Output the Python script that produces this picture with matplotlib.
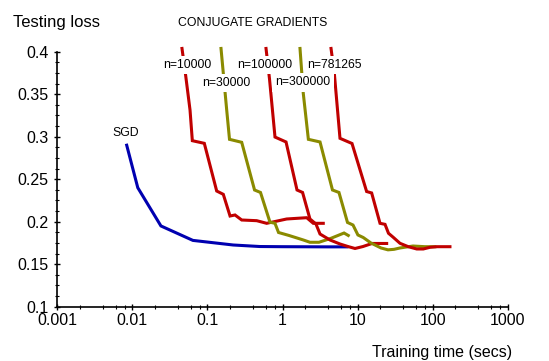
import numpy             as np
import matplotlib
matplotlib.use('Agg')
import matplotlib.pyplot as plt
from matplotlib.ticker import FixedLocator, FixedFormatter, NullFormatter

plt.rcParams['font.family'] = ['Liberation Sans', 'DejaVu Sans']

# SGD curve (time in secs, testing loss)
sgd_time = [0.0084, 0.0118, 0.024, 0.064, 0.22, 0.5, 1.0, 2.0, 4.0, 7.2]
sgd_loss = [0.290, 0.240, 0.195, 0.178, 0.1726, 0.1708, 0.1706, 0.1705, 0.1704, 0.1704]

# conjugate gradients, one curve per training set size
cg10k_time = [0.0458, 0.0513, 0.0586, 0.0629, 0.0908, 0.1328, 0.1626, 0.200, 0.233, 0.286,
              0.453, 0.615, 1.137, 2.10, 2.57, 3.49]
cg10k_loss = [0.4038, 0.3718, 0.3314, 0.2953, 0.2922, 0.2361, 0.2322, 0.2067, 0.2079, 0.2020,
              0.2012, 0.1981, 0.2032, 0.2047, 0.1981, 0.1981]

cg30k_time = [0.1516, 0.1805, 0.1967, 0.286, 0.424, 0.509, 0.681, 0.794, 0.885, 1.220,
              1.892, 2.32, 3.06, 4.43, 6.6, 7.52]
cg30k_loss = [0.4038, 0.3314, 0.2969, 0.2934, 0.2373, 0.2344, 0.1994, 0.1981, 0.1873, 0.1838,
              0.1785, 0.1758, 0.1758, 0.1805, 0.1867, 0.1838]

cg100k_time = [0.603, 0.671, 0.794, 1.114, 1.56, 1.85, 2.32, 2.79, 3.16, 4.29,
               5.82, 7.45, 9.24, 11.8, 15.6, 24.4]
cg100k_loss = [0.4038, 0.3679, 0.2996, 0.2938, 0.2373, 0.2344, 0.2032, 0.1973, 0.1855, 0.1785,
               0.1738, 0.1708, 0.1685, 0.1708, 0.1744, 0.1744]

cg300k_time = [1.71, 1.89, 2.21, 3.16, 4.63, 5.65, 7.34, 8.69, 10.1, 11.9,
               15.1, 20.5, 25.4, 30.6, 36.7, 54.7, 79.0, 107]
cg300k_loss = [0.4038, 0.3511, 0.2969, 0.2938, 0.2373, 0.2344, 0.1991, 0.1961, 0.1844, 0.1814,
               0.1749, 0.1691, 0.1669, 0.1675, 0.1691, 0.1714, 0.1706, 0.1706]

cgfull_time = [4.43, 4.90, 5.83, 8.43, 13.2, 15.4, 19.9, 23.2, 25.8, 29.9,
               36.7, 47.4, 61.4, 75.0, 92.2, 114, 170]
cgfull_loss = [0.4038, 0.3746, 0.2981, 0.2920, 0.2355, 0.2338, 0.1981, 0.1969, 0.1864, 0.1816,
               0.1746, 0.1706, 0.1679, 0.1679, 0.1699, 0.1706, 0.1706]

x_ticks       = [0.001, 0.01, 0.1, 1, 10, 100, 1000]
x_tick_labels = ['0.001', '0.01', '0.1', '1', '10', '100', '1000']
y_ticks       = [0.1, 0.15, 0.2, 0.25, 0.3, 0.35, 0.4]
y_tick_labels = ['0.1', '0.15', '0.2', '0.25', '0.3', '0.35', '0.4']

red   = '#c00000'
olive = '#8a8a00'
blue  = '#0000b0'

fig = plt.figure(figsize = (5.49, 3.61), dpi = 100)
ax  = fig.add_axes([0.1044, 0.1504, 0.8204, 0.7064])

curves = [(sgd_time,    sgd_loss,    blue),
          (cg10k_time,  cg10k_loss,  red),
          (cg30k_time,  cg30k_loss,  olive),
          (cg100k_time, cg100k_loss, red),
          (cg300k_time, cg300k_loss, olive),
          (cgfull_time, cgfull_loss, red)]

for t, loss, col in curves:
    ax.plot(t, loss, color = col, lw = 2.2, clip_on = False, zorder = 2,
            solid_joinstyle = 'miter')

ax.set_xscale('log')
ax.set_xlim(0.001, 1000)
ax.set_ylim(0.1, 0.4)

minor_x = [m * 10.0 ** e for e in range(-3, 3) for m in (2, 4, 6, 8)]
ax.xaxis.set_major_locator(FixedLocator(x_ticks))
ax.xaxis.set_major_formatter(FixedFormatter(x_tick_labels))
ax.xaxis.set_minor_locator(FixedLocator(minor_x))
ax.xaxis.set_minor_formatter(NullFormatter())
ax.yaxis.set_major_locator(FixedLocator(y_ticks))
ax.yaxis.set_major_formatter(FixedFormatter(y_tick_labels))
ax.yaxis.set_minor_locator(FixedLocator(np.arange(0.1, 0.4001, 0.0125)))

ax.spines['top'].set_visible(False)
ax.spines['right'].set_visible(False)
for side in ['left', 'bottom']:
    ax.spines[side].set_linewidth(1.2)

ax.tick_params(which = 'major', direction = 'inout', length = 5, width = 1.0,
               labelsize = 11.5, colors = 'black')
ax.tick_params(which = 'minor', direction = 'inout', length = 3, width = 0.8)
ax.tick_params(axis = 'x', pad = 2)
ax.tick_params(axis = 'y', pad = 4)

label_box = dict(facecolor = 'white', edgecolor = 'none', pad = 2.5)
ax.text(0.4, 0.4335, 'CONJUGATE GRADIENTS', fontsize = 8.8, ha = 'center', va = 'center')
ax.text(0.0547, 0.3844, 'n=10000',  fontsize = 8.8, ha = 'center', va = 'center', bbox = label_box, zorder = 5)
ax.text(0.1800, 0.3631, 'n=30000',  fontsize = 8.8, ha = 'center', va = 'center', bbox = label_box, zorder = 5)
ax.text(0.5800, 0.3844, 'n=100000', fontsize = 8.8, ha = 'center', va = 'center', bbox = label_box, zorder = 5)
ax.text(1.8800, 0.3639, 'n=300000', fontsize = 8.8, ha = 'center', va = 'center', bbox = label_box, zorder = 5)
ax.text(4.9000, 0.3844, 'n=781265', fontsize = 8.8, ha = 'center', va = 'center', bbox = label_box, zorder = 5)
ax.text(0.0082, 0.3049, 'SGD', fontsize = 8.8, ha = 'center', va = 'center')

fig.text(13.3 / 549, 1 - 26.5 / 361, 'Testing loss', fontsize = 12, ha = 'left', va = 'baseline')
fig.text(512 / 549, 1 - 357.5 / 361, 'Training time (secs)', fontsize = 11.5, ha = 'right', va = 'baseline')

fig.savefig('out.png', dpi = 100)
